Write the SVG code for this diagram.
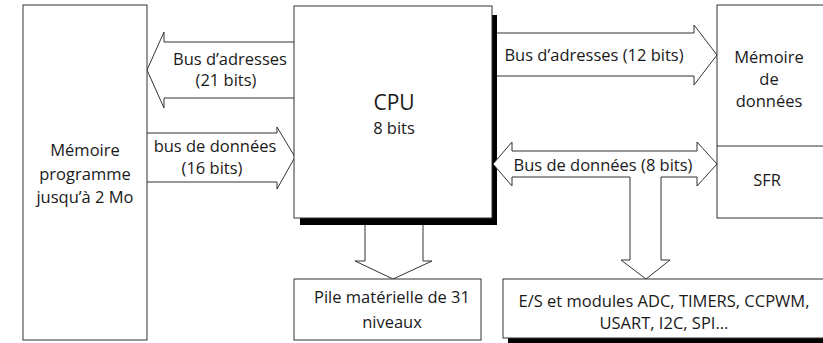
<svg xmlns="http://www.w3.org/2000/svg" width="823" height="343" viewBox="0 0 823 343">
  <style>
    .box { fill: #fff; stroke: #333; stroke-width: 1; }
    .bus { fill: #fff; stroke: #333; stroke-width: 1; stroke-linejoin: miter; }
    .shadow { fill: #000; }
    text { font-family: "Open Sans", "Liberation Sans", sans-serif; font-size: 16.5px; fill: #1a1a1a; text-anchor: middle; }
    .big { font-size: 21px; }
  </style>
  <rect width="823" height="343" fill="#fff"/>

  <!-- buses -->
  <g id="connectors">
    <!-- address bus to program memory (21 bits) -->
    <path class="bus" d="M296,42 H164 V32 L147,70 L164,108 V98 H296"/>
    <!-- data bus from program memory (16 bits) -->
    <path class="bus" d="M147,133 H277 V127 L295,157 L277,189 V182 H147"/>
    <!-- stack bus -->
    <path class="bus" d="M365,218 V261 H355 L393,279 L432,261 H423 V218"/>
    <!-- address bus to data memory (12 bits) -->
    <path class="bus" d="M492,33 H694 V25 L717,55 L694,85 V76 H492"/>
  </g>

  <g id="cpu">
    <rect class="shadow" x="300" y="15" width="197" height="210"/>
    <rect class="box" x="294" y="6" width="198" height="212"/>
    <text class="big" x="394" y="110">CPU</text>
    <text x="394" y="134">8 bits</text>
  </g>

  <g id="data-bus">
    <!-- bidirectional data bus (8 bits) with branch to peripherals -->
    <path class="bus" d="M512,151 V142 L493,164 L512,186 V177 H630 V260 H621 L646,279 L670,260 H661 V177 H697 V186 L717,164 L697,142 V151 Z"/>
  </g>

  <g id="labels">
    <text x="230" y="65">Bus d’adresses</text>
    <text x="226" y="86">(21 bits)</text>
    <text x="215" y="152">bus de données</text>
    <text x="212" y="174">(16 bits)</text>
    <text x="594" y="61">Bus d’adresses (12 bits)</text>
    <text x="603" y="171">Bus de données (8 bits)</text>
  </g>

  <g id="program-memory">
    <rect class="box" x="23" y="5" width="124" height="335"/>
    <text x="85" y="156">Mémoire</text>
    <text x="85" y="180">programme</text>
    <text x="85" y="203">jusqu’à 2 Mo</text>
  </g>

  <g id="data-memory">
    <rect class="box" x="717" y="5" width="120" height="213"/>
    <line x1="717" y1="146" x2="823" y2="146" stroke="#333" stroke-width="1"/>
    <text x="769" y="63">Mémoire</text>
    <text x="769" y="85">de</text>
    <text x="769" y="107">données</text>
    <text x="767" y="186">SFR</text>
  </g>

  <g id="stack">
    <rect class="box" x="294" y="279" width="187" height="61"/>
    <text x="392" y="303">Pile matérielle de 31</text>
    <text x="392" y="328">niveaux</text>
  </g>

  <g id="peripherals">
    <rect class="shadow" x="508" y="338" width="320" height="6"/>
    <rect class="box" x="503" y="279" width="330" height="59"/>
    <text x="664" y="307">E/S et modules ADC, TIMERS, CCPWM,</text>
    <text x="664" y="329">USART, I2C, SPI...</text>
  </g>
</svg>
